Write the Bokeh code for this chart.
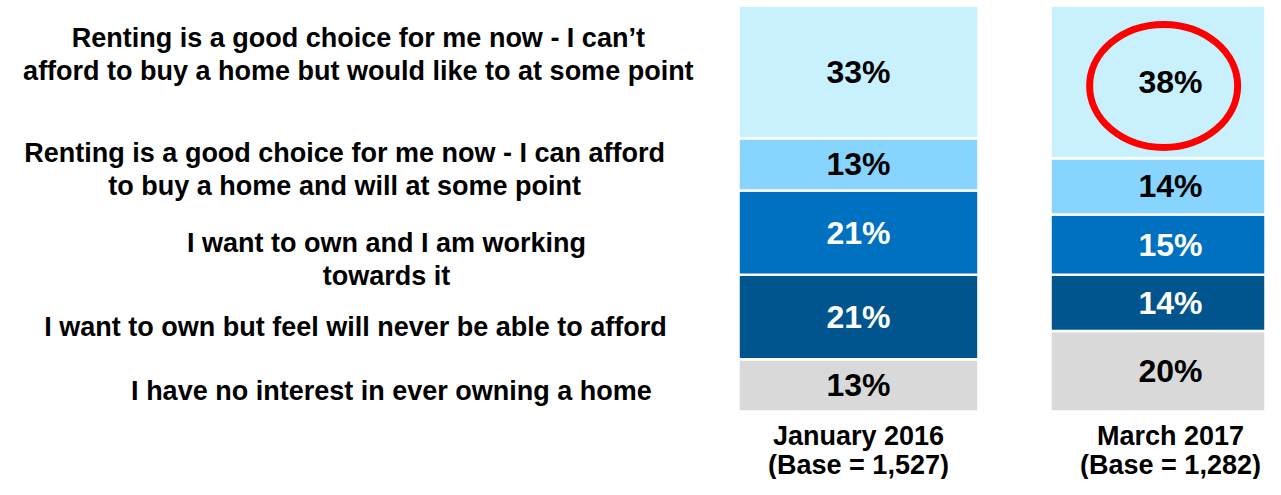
from bokeh.plotting import figure
from bokeh.models import Range1d, ColumnDataSource
from bokeh.core.properties import value
from bokeh.embed import file_html
from bokeh.resources import INLINE

# ---------------- data ----------------
periods = ["January 2016", "March 2017"]
bases = ["(Base = 1,527)", "(Base = 1,282)"]
# responses listed bottom -> top of the stack
responses = [
    "I have no interest in ever owning a home",
    "I want to own but feel will never be able to afford",
    "I want to own and I am working towards it",
    "Renting is a good choice for me now - I can afford to buy a home and will at some point",
    "Renting is a good choice for me now - I can\u2019t afford to buy a home but would like to at some point",
]
jan_2016 = [13, 21, 21, 13, 33]
mar_2017 = [20, 14, 15, 14, 38]

# ---------------- styles / layout ----------------
colors = ["#D9D9D9", "#00558F", "#0070C0", "#87D4FE", "#C9F0FD"]
text_colors = ["black", "white", "white", "black", "black"]
# wrapped category labels (lines) and their vertical anchors (in % units)
label_lines = [
    ["I have no interest in ever owning a home"],
    ["I want to own but feel will never be able to afford"],
    ["I want to own and I am working", "towards it"],
    ["Renting is a good choice for me now - I can afford", "to buy a home and will at some point"],
    ["Renting is a good choice for me now - I can\u2019t", "afford to buy a home but would like to at some point"],
]
label_y = [[5.2], [21.1], [41.8, 33.8], [64.2, 56.0], [93.0, 84.8]]
label_x = [-1.497, -1.612, -1.513, -1.647, -1.603]

FONT = value("Liberation Sans")

p = figure(width=1265, height=479,
           x_range=Range1d(-2.75, 1.3045), y_range=Range1d(-16.92, 102.24),
           output_backend="svg", toolbar_location=None, min_border=0)
p.axis.visible = False
p.xgrid.visible = False
p.ygrid.visible = False
p.outline_line_color = None
p.background_fill_color = "white"
p.border_fill_color = "white"

xs = list(range(len(periods)))
series = [jan_2016, mar_2017]
for i in range(len(responses)):
    bottoms = [sum(s[:i]) for s in series]
    tops = [sum(s[:i + 1]) for s in series]
    src = ColumnDataSource(dict(x=xs, bottom=bottoms, top=tops,
                                mid=[(b + t) / 2 for b, t in zip(bottoms, tops)],
                                lab=[f"{s[i]}%" for s in series]))
    p.vbar(x="x", width=0.769, bottom="bottom", top="top", source=src,
           fill_color=colors[i], line_color="white", line_width=2.5)
    p.text(x="x", y="mid", text="lab", source=src, text_align="center",
           text_baseline="middle", text_font=FONT, text_font_style="bold",
           text_font_size="32px", text_color=text_colors[i])

# category labels on the left
for lines, ys, x in zip(label_lines, label_y, label_x):
    p.text(x=[x] * len(lines), y=ys, text=lines, text_align="center",
           text_baseline="middle", text_font=FONT, text_font_style="bold",
           text_font_size="27px", text_color="black")

# period labels below the bars
p.text(x=xs, y=[-6.1] * 2, text=periods, text_align="center", text_baseline="middle",
       text_font=FONT, text_font_style="bold", text_font_size="27px", text_color="black")
p.text(x=xs, y=[-13.4] * 2, text=bases, text_align="center", text_baseline="middle",
       text_font=FONT, text_font_style="bold", text_font_size="27px", text_color="black")

# red highlight ring around the latest top segment
top_mid = sum(mar_2017[:-1]) + mar_2017[-1] / 2
p.ellipse(x=[xs[1] - 0.022], y=[top_mid - 1.0], width=148, height=123,
          width_units="screen", height_units="screen",
          fill_color=None, line_color="#FF0000", line_width=7)

open("out.html", "w").write(file_html(p, INLINE))
